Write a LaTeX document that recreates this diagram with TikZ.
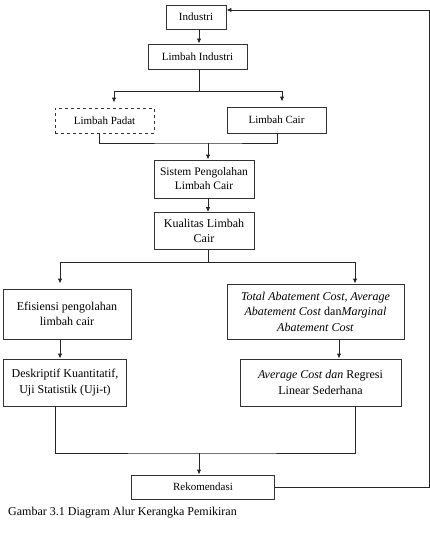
\documentclass[tikz,border=0pt]{standalone}
\usepackage{fontspec}
\setmainfont{Liberation Serif}
\usetikzlibrary{arrows.meta}

\tikzset{
	kotak/.style={draw=black!80, line width=0.9pt, align=center, inner sep=2pt},
	kecil/.style={kotak, font=\fontsize{11}{13}\selectfont},
	besar/.style={kotak, font=\fontsize{12}{15.5}\selectfont},
	garis/.style={draw=black!85, line width=0.9pt},
	panah/.style={garis, -{Latex[length=5pt,width=4.5pt]}}
}

\begin{document}
\begin{tikzpicture}[x=1pt, y=-1pt]
	
	\useasboundingbox (0,0) rectangle (430,535);
	
	% kotak-kotak
	\node[kecil, minimum width=60, minimum height=24] (ind) at (196,17) {Industri};
	\node[kecil, minimum width=99, minimum height=25] (limind) at (197.5,56.5) {Limbah Industri};
	\node[kecil, dashed, minimum width=99, minimum height=25] (padat) at (104.5,120.5) {Limbah Padat};
	\node[kecil, minimum width=99, minimum height=26] (cair) at (276.5,120) {Limbah Cair};
	\node[kotak, font=\fontsize{11.5}{14}\selectfont, minimum width=100, minimum height=38] (sistem) at (204,179) {Sistem Pengolahan\\Limbah Cair};
	\node[besar, minimum width=100, minimum height=37] (kual) at (204,231) {Kualitas Limbah\\Cair};
	\node[besar, minimum width=128, minimum height=50] (efis) at (67,314) {Efisiensi pengolahan\\limbah cair};
	\node[besar, minimum width=177, minimum height=55] (tac) at (315.5,311.5) {\textit{Total Abatement Cost, Average}\\\textit{Abatement Cost} dan\textit{Marginal}\\\textit{Abatement Cost}};
	\node[besar, minimum width=123, minimum height=47] (desk) at (65,382.5) {Deskriptif Kuantitatif,\\Uji Statistik (Uji-t)};
	\node[besar, minimum width=161, minimum height=47] (avg) at (320.5,382.5) {\textit{Average Cost dan} Regresi\\Linear Sederhana};
	\node[kecil, minimum width=143, minimum height=24] (rek) at (203,487) {Rekomendasi};
	
	\node[anchor=west, inner sep=0, font=\fontsize{12}{14}\selectfont] (judul) at (8,513) {Gambar 3.1 Diagram Alur Kerangka Pemikiran};
	
	% titik cabang
	\coordinate (c1) at (199,91);
	\coordinate (c2) at (208,143);
	\coordinate (c3) at (208,262);
	\coordinate (c4) at (199,453);
	
	\draw[panah] ([xshift=3]ind.south) -- ([xshift=3]ind.south |- limind.north);
	
	\draw[garis] (c1 |- limind.south) -- (c1);
	\draw[panah, shorten >=5pt] (c1) -| ([xshift=9.5]padat.north);
	\draw[panah, shorten >=5pt] (c1) -| ([xshift=5.5]cair.north);
	
	\draw[garis] ([xshift=-5.5]padat.south) |- (c2) -| ([xshift=0.5]cair.south);
	\draw[panah] (c2) -- (c2 |- sistem.north);
	
	\draw[panah] ([xshift=4]sistem.south) -- ([xshift=4]kual.north);
	
	\draw[garis] ([xshift=4]kual.south) -- (c3);
	\draw[panah, shorten >=5pt] (c3) -| ([xshift=-7]efis.north);
	\draw[panah] (c3) -| ([xshift=39.5]tac.north);
	
	\draw[panah] ([xshift=-7]efis.south) -- ([xshift=-5]desk.north);
	\draw[panah] ([xshift=23.5]tac.south) -- ([xshift=18.5]avg.north);
	
	\draw[garis] ([xshift=-10]desk.south) |- (c4) -| ([xshift=34.5]avg.south);
	\draw[panah] (c4) -- (c4 |- rek.north);
	
	\draw[panah] (rek.east) -- (429,487) |- ([yshift=7pt]ind.east);
	
\end{tikzpicture}
\end{document}
